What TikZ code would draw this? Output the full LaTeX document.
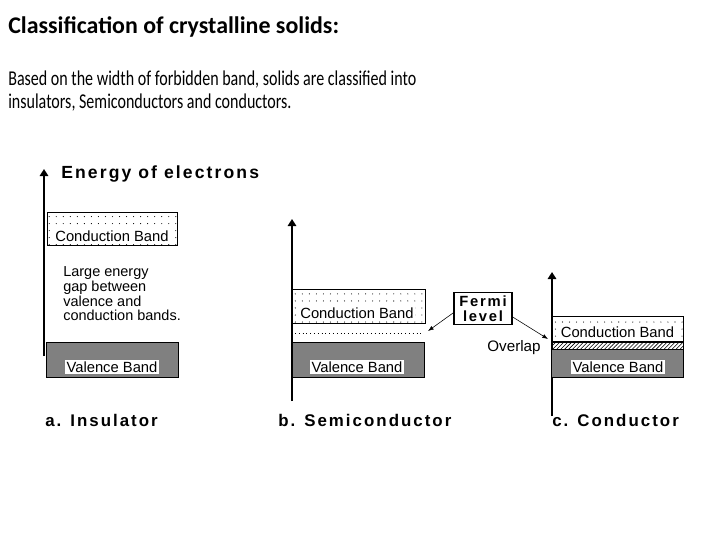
\documentclass[tikz,border=0pt]{standalone}
\usepackage{fontspec}
\setmainfont{Carlito}
\newfontfamily\slidefont[FakeStretch=0.76]{Carlito}
\newfontfamily\pixfont{Liberation Sans}
\newfontfamily\headfont[LetterSpace=12]{Liberation Sans}
\usetikzlibrary{arrows.meta,patterns,patterns.meta}

\begin{document}
\begin{tikzpicture}[
  x=0.025cm, y=-0.025cm,
  axis/.style={line width=2pt,-{Triangle[length=5pt,width=6pt]}},
  condband/.style={draw,line width=0.6pt,minimum width=3.25cm,
    pattern={Dots[distance=5pt,radius=0.4pt]}},
  valband/.style={draw,line width=0.6pt,minimum width=3.3cm,
    minimum height=0.875cm,fill=black!50},
  bandlabel/.style={fill=white,inner sep=1pt,font=\pixfont\fontsize{10.5}{12}\selectfont},
  note/.style={font=\pixfont\fontsize{10.3}{10.6}\selectfont,align=left,inner sep=0pt},
  caption/.style={font=\headfont\bfseries\fontsize{12}{14}\selectfont,anchor=west,inner sep=0pt},
  ptr/.style={-{Latex[length=4pt,width=3pt]},thin},
]
\useasboundingbox (0,0) rectangle (720,540);

% Heading
\node[font=\bfseries\fontsize{17}{20}\selectfont,anchor=west,inner sep=0pt]
  (title) at (8,27) {Classification of crystalline solids:};
\node[font=\slidefont\fontsize{15}{16.3}\selectfont,anchor=west,align=left,inner sep=0pt]
  (intro) at (8,91) {Based on the width of forbidden band, solids are classified into\\
  insulators, Semiconductors and conductors.};

% a. Insulator
\coordinate (axA0) at (44,356);
\coordinate (axA1) at (44,169);
\draw[axis] (axA0) -- (axA1);
\node[caption,font=\headfont\bfseries\fontsize{12.5}{14}\selectfont] (energy) at (61,174)
  {Energy of electrons};
\node[condband,minimum height=0.825cm] (cbA) at (112,228.5) {};
\node[bandlabel] (cbAl) at (112,236) {Conduction Band};
\node[note,anchor=north west] (gap) at (63,266)
  {Large energy\\gap between\\valence and\\conduction bands.};
\node[valband] (vbA) at (112.5,359.5) {};
\node[bandlabel] (vbAl) at (112,367) {Valence Band};
\node[caption] (capA) at (45,420) {a. Insulator};

% b. Semiconductor
\coordinate (axB0) at (292,401);
\coordinate (axB1) at (292,219);
\draw[axis] (axB0) -- (axB1);
\node[condband,minimum width=3.33cm,minimum height=0.85cm] (cbB) at (358.5,306) {};
\node[bandlabel] (cbBl) at (357,313) {Conduction Band};
\coordinate (flB0) at (295,333);
\coordinate (flB1) at (424,333);
\draw[dotted,line width=0.7pt] (flB0) -- (flB1);
\node[valband] (vbB) at (358.5,359.5) {};
\node[bandlabel] (vbBl) at (357,367) {Valence Band};
\node[caption] (capB) at (278,420) {b. Semiconductor};

% Fermi level pointers
\node[draw,line width=0.8pt,minimum width=1.45cm,minimum height=0.78cm,align=center,
  inner sep=1pt,font=\headfont\bfseries\fontsize{10.5}{11}\selectfont] (fermi) at (483,308.5)
  {Fermi\\level};
\coordinate (tipB) at (428,331);
\coordinate (tipC) at (548,339);
\draw[ptr] ([yshift=-3pt]fermi.west) -- (tipB);
\draw[ptr] ([yshift=-6pt]fermi.east) -- (tipC);
\node[font=\pixfont\fontsize{10.8}{12}\selectfont,inner sep=0pt] (overlap) at (514,348) {Overlap};

% c. Conductor
\coordinate (axC0) at (552,416);
\coordinate (axC1) at (552,272);
\draw[axis] (axC0) -- (axC1);
\node[condband,minimum width=3.28cm,minimum height=0.65cm] (cbC) at (617.5,329.5) {};
\node[bandlabel] (cbCl) at (617.5,332) {Conduction Band};
\node[draw,line width=0.6pt,minimum width=3.28cm,minimum height=0.18cm,inner sep=0pt,
  pattern={Lines[angle=45,distance=2pt,line width=0.4pt]}] (ovC) at (617.5,345.5) {};
\node[valband,minimum width=3.28cm,minimum height=0.7cm] (vbC) at (617.5,363) {};
\node[bandlabel] (vbCl) at (618,367) {Valence Band};
\node[caption] (capC) at (552,420) {c. Conductor};

\end{tikzpicture}
\end{document}
